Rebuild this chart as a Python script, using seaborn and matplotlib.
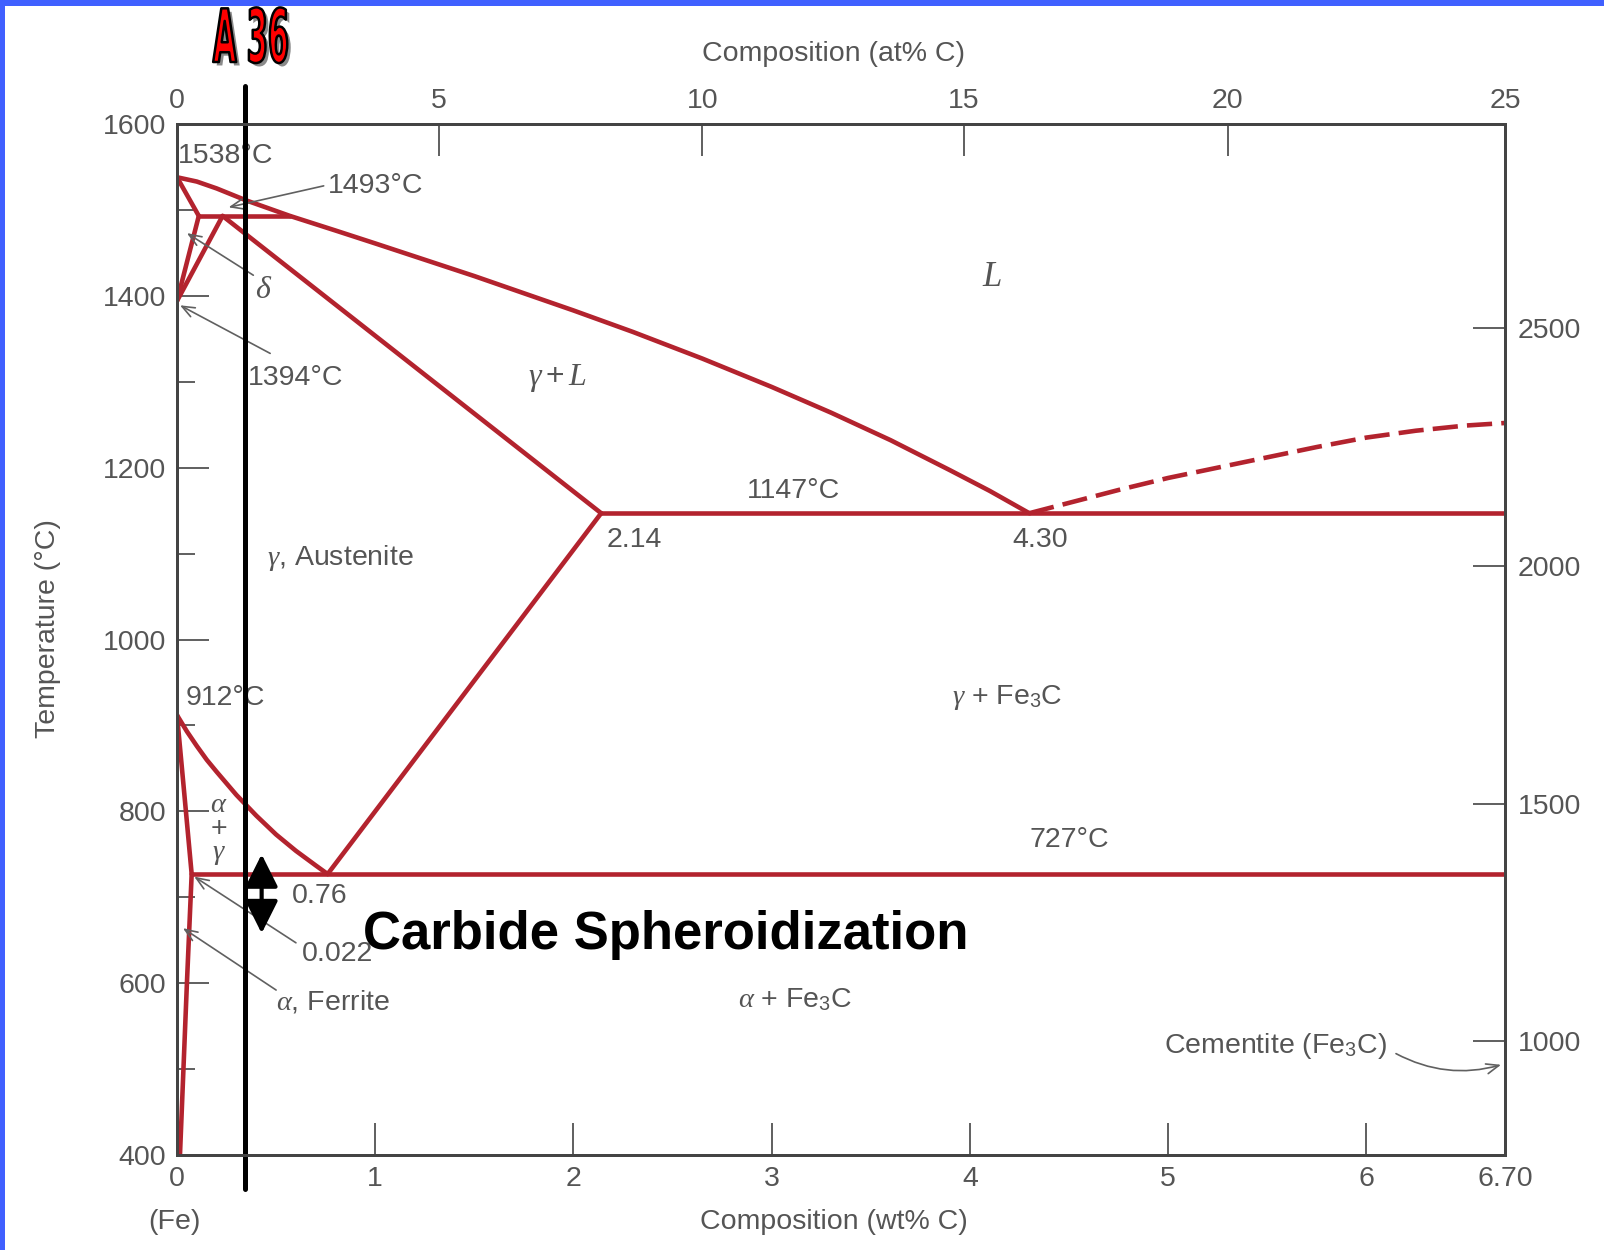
import matplotlib
matplotlib.use("Agg")
import matplotlib.pyplot as plt
import matplotlib.patheffects as pe
from matplotlib.colors import to_rgba
from matplotlib.patches import Rectangle
from matplotlib.transforms import Affine2D
import pandas as pd
import seaborn as sns

# ---------------- data (composition in wt% C, temperature in °C) ----------------
liquidus_wt = [0.0, 0.1, 0.2, 0.35, 0.57, 0.8, 1.0, 1.25, 1.5, 1.75, 2.0, 2.3, 2.65,
               3.0, 3.3, 3.6, 3.9, 4.1, 4.30]
liquidus_T = [1538, 1533, 1525, 1511, 1493, 1476, 1461, 1442, 1423, 1403, 1383, 1358,
              1327, 1294, 1264, 1232, 1197, 1173, 1147]
delta_sol_wt = [0.0, 0.11]
delta_sol_T = [1538, 1493]
delta_solvus_wt = [0.11, 0.0]
delta_solvus_T = [1493, 1394]
gamma_delta_wt = [0.23, 0.0]
gamma_delta_T = [1493, 1394]
peritectic_wt = [0.11, 0.57]
peritectic_T = [1493, 1493]
gamma_sol_wt = [0.23, 2.14]
gamma_sol_T = [1493, 1147]
eutectic_wt = [2.14, 6.70]
eutectic_T = [1147, 1147]
acm_wt = [2.14, 0.76]
acm_T = [1147, 727]
a3_wt = [0.0, 0.05, 0.1, 0.15, 0.2, 0.3, 0.4, 0.5, 0.6, 0.7, 0.76]
a3_T = [912, 893, 876, 860, 846, 819, 795, 773, 754, 737, 727]
alpha_hi_wt = [0.0, 0.037, 0.074]
alpha_hi_T = [912, 820, 727]
alpha_lo_wt = [0.074, 0.05, 0.015]
alpha_lo_T = [727, 600, 400]
eutectoid_wt = [0.074, 6.70]
eutectoid_T = [727, 727]
graphite_wt = [4.30, 4.5, 4.75, 5.0, 5.25, 5.5, 5.75, 6.0, 6.25, 6.5, 6.70]
graphite_T = [1147, 1159, 1174, 1188, 1200, 1212, 1224, 1235, 1243, 1249, 1252]

# A36 steel marker and spheroidization range
a36_wt = [0.343, 0.343]
a36_T = [1644, 360]
spher_wt = 0.427
spher_T = [750, 658]

# axes ticks
wt_ticks = [0, 1, 2, 3, 4, 5, 6, 6.70]
wt_tick_labels = ["0", "1", "2", "3", "4", "5", "6", "6.70"]
T_major = [400, 600, 800, 1000, 1200, 1400, 1600]
T_minor = [500, 700, 900, 1100, 1300, 1500]
at_tick_labels = ["0", "5", "10", "15", "20", "25"]
at_tick_wt = [0, 1.32, 2.65, 3.97, 5.30, 6.70]
F_tick_labels = ["1000", "1500", "2000", "2500"]
F_tick_T = [533, 808, 1086, 1363]

# ---------------- style ----------------
sns.set_style("white")
plt.rcParams["font.family"] = ["Liberation Sans", "DejaVu Sans"]
plt.rcParams["mathtext.fontset"] = "custom"
plt.rcParams["mathtext.it"] = "Liberation Serif:italic"
plt.rcParams["mathtext.rm"] = "Liberation Sans"
plt.rcParams["mathtext.default"] = "it"

RED = "#b3232e"
GRAY = "#555555"
SPINE = "#444444"
FS = 20.5
FS_IT = 23

fig = plt.figure(figsize=(16.04, 12.5), dpi=100)
fig.patch.set_facecolor("white")
ax = fig.add_axes([177 / 1604, 1 - 1155 / 1250, 1328 / 1604, 1031 / 1250])

segments = {
    "liquidus": (liquidus_wt, liquidus_T),
    "delta_sol": (delta_sol_wt, delta_sol_T),
    "delta_solvus": (delta_solvus_wt, delta_solvus_T),
    "gamma_delta": (gamma_delta_wt, gamma_delta_T),
    "peritectic": (peritectic_wt, peritectic_T),
    "gamma_sol": (gamma_sol_wt, gamma_sol_T),
    "eutectic": (eutectic_wt, eutectic_T),
    "acm": (acm_wt, acm_T),
    "a3": (a3_wt, a3_T),
    "alpha_hi": (alpha_hi_wt, alpha_hi_T),
    "alpha_lo": (alpha_lo_wt, alpha_lo_T),
    "eutectoid": (eutectoid_wt, eutectoid_T),
}
rows = []
for name, (ws, ts) in segments.items():
    for i, (w, t) in enumerate(zip(ws, ts)):
        rows.append((name, i, w, t))
df = pd.DataFrame(rows, columns=["boundary", "order", "wt", "T"])

sns.lineplot(data=df, x="wt", y="T", units="boundary", estimator=None, sort=False,
             color=RED, linewidth=3.3, ax=ax, legend=False, solid_joinstyle="round")
sns.lineplot(x=graphite_wt, y=graphite_T, estimator=None, sort=False, color=RED,
             linewidth=3.3, ax=ax, legend=False)
ax.lines[-1].set_dashes([5.5, 2])

ax.set_xlim(0, 6.70)
ax.set_ylim(400, 1600)
ax.set_xticks(wt_ticks)
ax.set_xticklabels(wt_tick_labels)
ax.set_yticks(T_major)
ax.set_yticks(T_minor, minor=True)
ax.tick_params(which="major", direction="in", length=23, width=1.2, color=SPINE,
               labelcolor=GRAY, labelsize=FS, pad=8, left=True, bottom=True,
               right=False, top=False)
ax.tick_params(which="minor", direction="in", length=13, width=1.2, color=SPINE,
               left=True, right=False, bottom=False, top=False)
ax.set_xlabel("Composition (wt% C)", fontsize=FS, color=GRAY)
ax.xaxis.set_label_coords((834 - 177) / 1328, (1155 - 1222) / 1031)
ax.xaxis.label.set_va("center")
ax.set_ylabel("Temperature (°C)", fontsize=FS, color=GRAY)
ax.yaxis.set_label_coords((48 - 177) / 1328, (1155 - 629) / 1031)
ax.yaxis.label.set_va("center")
ax.text(-0.015, (1155 - 1222) / 1031, "(Fe)", transform=ax.get_xaxis_transform(),
        ha="center", va="center", fontsize=FS, color=GRAY)

# top axis (at% C)
axt = ax.twiny()
axt.set_xlim(0, 6.70)
axt.set_xticks(at_tick_wt)
axt.set_xticklabels(at_tick_labels)
axt.tick_params(direction="in", length=23, width=1.2, color=SPINE, labelcolor=GRAY,
                labelsize=FS, pad=7, top=True, bottom=False)
axt.set_xlabel("Composition (at% C)", fontsize=FS, color=GRAY)
axt.xaxis.set_label_coords((834 - 177) / 1328, (1155 - 54) / 1031)
axt.xaxis.label.set_va("center")

# right axis (°F)
axr = ax.twinx()
axr.set_ylim(400, 1600)
axr.set_yticks(F_tick_T)
axr.set_yticklabels(F_tick_labels)
axr.tick_params(direction="in", length=23, width=1.2, color=SPINE, labelcolor=GRAY,
                labelsize=FS, pad=9, right=True, left=False)

for a in (ax, axt, axr):
    for s in a.spines.values():
        s.set_color(SPINE)
        s.set_linewidth(2.0)
    a.grid(False)


def label(x, y, s, ha="center", va="center", **kw):
    kw.setdefault("fontsize", FS)
    ax.text(x, y, s, ha=ha, va=va, color=GRAY, zorder=3, **kw)


def leader(start, end, rad=0.0):
    ax.annotate("", xy=end, xytext=start,
                arrowprops=dict(arrowstyle="->,head_length=0.45,head_width=0.18",
                                color="#606060", lw=1.2, shrinkA=0, shrinkB=0,
                                mutation_scale=20,
                                connectionstyle=f"arc3,rad={rad}"))


label(0.005, 1563, "1538°C", ha="left")
label(0.762, 1528, "1493°C", ha="left")
label(0.358, 1304, "1394°C", ha="left")
label(0.439, 1407, r"$\delta$", fontsize=FS_IT)
label(4.11, 1423, r"$L$", fontsize=25)
label(1.92, 1304, r"$\gamma + L$", fontsize=FS_IT)
label(3.108, 1173, "1147°C")
label(2.167, 1116, "2.14", ha="left")
label(4.355, 1116, "4.30")
label(0.825, 1095, r"$\gamma$, Austenite")
label(0.045, 932, "912°C", ha="left")
label(4.19, 932, r"$\gamma$ + Fe$_{\mathrm{3}}$C")
label(0.21, 807, r"$\alpha$")
label(0.21, 780, "+")
label(0.21, 750, r"$\gamma$")
label(4.50, 767, "727°C")
label(0.578, 701, "0.76", ha="left")
label(0.63, 634, "0.022", ha="left")
label(0.50, 578, r"$\alpha$, Ferrite", ha="left")
label(3.12, 581, r"$\alpha$ + Fe$_{\mathrm{3}}$C")
label(5.54, 527, r"Cementite (Fe$_{\mathrm{3}}$C)")

leader((0.74, 1528), (0.26, 1503))
leader((0.385, 1424), (0.05, 1473))
leader((0.47, 1333), (0.015, 1389))
leader((0.60, 647), (0.087, 724))
leader((0.50, 592), (0.03, 664))
leader((6.15, 518), (6.68, 505), rad=0.2)

# A36 composition line and spheroidization arrow
sns.lineplot(x=a36_wt, y=a36_T, estimator=None, sort=False, color="black",
             linewidth=3.6, ax=ax, legend=False)
ax.lines[-1].set_clip_on(False)
ax.lines[-1].set_zorder(6)
ax.annotate("", xy=(spher_wt, spher_T[0]), xytext=(spher_wt, spher_T[1]),
            arrowprops=dict(arrowstyle="<|-|>,head_length=1.0,head_width=0.5",
                            color="black", lw=3, shrinkA=0, shrinkB=0,
                            mutation_scale=20), zorder=6)
ax.text(0.938, 640, "Carbide Spheroidization", ha="left", va="baseline",
        fontsize=38, fontweight="bold", color="black", zorder=6,
        family=["Liberation Sans", "DejaVu Sans"])


# "A 36" title: real text, horizontally condensed through a path effect
class CondensedText(pe.AbstractPathEffect):
    def __init__(self, sx, cx_px, offset=(0, 0), face=None, edge=None, lw=0.0):
        super().__init__(offset)
        self._sx, self._cx = sx, cx_px
        self._face, self._edge, self._lw = face, edge, lw

    def draw_path(self, renderer, gc, tpath, affine, rgbFace=None):
        squeeze = Affine2D().translate(-self._cx, 0).scale(self._sx, 1).translate(self._cx, 0)
        aff = affine + squeeze + self._offset_transform(renderer)
        gc0 = renderer.new_gc()
        gc0.copy_properties(gc)
        face = to_rgba(self._face) if self._face is not None else rgbFace
        if self._edge is not None:
            gc0.set_foreground(self._edge)
            gc0.set_linewidth(self._lw)
        else:
            gc0.set_foreground(face)
            gc0.set_linewidth(0)
        renderer.draw_path(gc0, tpath, aff, face)
        gc0.restore()


a36_cx = 251
fig.text(a36_cx / 1604, 1 - 62 / 1250, "A 36", color="#ff0000", ha="center",
         va="baseline", fontsize=53, fontweight="bold",
         family=["DejaVu Sans"],
         path_effects=[CondensedText(0.41, a36_cx, offset=(2.5, -2.5), face="#8a8a8a"),
                       CondensedText(0.41, a36_cx, face="#ff0000", edge="black", lw=1.8)])

# blue slide border (top and left)
fig.add_artist(Rectangle((0, 1 - 6 / 1250), 1, 6 / 1250, transform=fig.transFigure,
                         facecolor="#4060ff", edgecolor="none"))
fig.add_artist(Rectangle((0, 0), 5 / 1604, 1, transform=fig.transFigure,
                         facecolor="#4060ff", edgecolor="none"))

fig.savefig("out.png", dpi=100, facecolor="white")
